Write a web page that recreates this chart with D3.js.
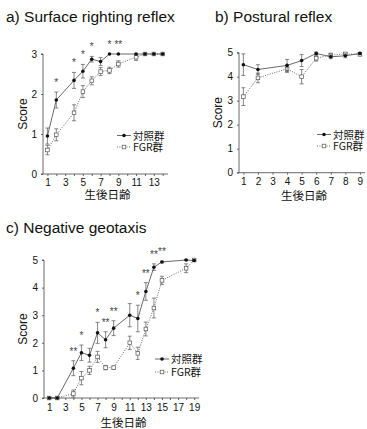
<!DOCTYPE html>
<html>
<head>
<meta charset="utf-8">
<script src="https://cdn.jsdelivr.net/npm/d3@7"></script>
<style>
  body { margin: 0; background: #fff; }
  svg text { font-family: "Liberation Sans", Arial, sans-serif; }
  .jp { font-family: "Noto Sans CJK JP", sans-serif; }
</style>
</head>
<body>
<svg id="chart" width="367" height="429"></svg>
<script>
// a) Surface righting reflex
const aDays = [1, 2, 4, 5, 6, 7, 8, 9, 11, 12, 13, 14];
const aCtrl = [0.95, 1.85, 2.34, 2.57, 2.87, 2.81, 3, 3, 3, 3, 3, 3];
const aCtrlErr = [0.2, 0.2, 0.2, 0.17, 0.07, 0.1, 0, 0, 0, 0, 0, 0];
const aFgr = [0.6, 0.98, 1.53, 2.06, 2.33, 2.56, 2.59, 2.75, 2.92, 3, 3, 3];
const aFgrErr = [0.12, 0.15, 0.2, 0.15, 0.1, 0.1, 0.08, 0.08, 0.08, 0, 0, 0];
const aStars = [[2, "*"], [4, "*"], [5, "*"], [6, "*"], [8, "*"], [9, "**"]];
const aXTicks = [1, 3, 5, 7, 9, 11, 13];
const aYTicks = [0, 1, 2, 3];

// b) Postural reflex
const bDays = [1, 2, 4, 5, 6, 7, 8, 9];
const bCtrl = [4.5, 4.3, 4.47, 4.67, 4.97, 4.83, 4.87, 4.97];
const bCtrlErr = [0.45, 0.2, 0.25, 0.25, 0.05, 0.08, 0.08, 0.04];
const bFgr = [3.17, 3.95, 4.33, 4.0, 4.77, 4.9, 4.95, 4.93];
const bFgrErr = [0.37, 0.2, 0.15, 0.3, 0.12, 0.08, 0.05, 0.05];
const bXTicks = [1, 2, 3, 4, 5, 6, 7, 8, 9];
const bYTicks = [0, 1, 2, 3, 4, 5];

// c) Negative geotaxis
const cDays = [1, 2, 4, 5, 6, 7, 8, 9, 11, 12, 13, 14, 15, 18, 19];
const cCtrl = [0, 0, 1.08, 1.64, 1.55, 2.36, 2.11, 2.53, 3.0, 2.88, 3.86, 4.74, 4.93, 5.0, 4.98];
const cCtrlErr = [0, 0, 0.27, 0.28, 0.25, 0.38, 0.29, 0.27, 0.42, 0.48, 0.32, 0.12, 0.03, 0.02, 0.02];
const cFgr = [0, 0, 0.16, 0.72, 1.0, 1.49, 1.1, 1.1, 2.0, 1.62, 2.5, 3.26, 4.26, 4.7, 5.0];
const cFgrErr = [0, 0, 0.13, 0.24, 0.15, 0.2, 0.08, 0.06, 0.24, 0.22, 0.25, 0.36, 0.15, 0.16, 0];
const cStars = [[4, "**"], [5, "*"], [7, "*"], [8, "**"], [9, "**"], [12, "*"], [13, "**"], [14, "**"], [15, "**"]];
const cXTicks = [1, 3, 5, 7, 9, 11, 13, 15, 17, 19];
const cYTicks = [0, 1, 2, 3, 4, 5];

const legendNames = ["対照群", "FGR群"];
const xTitle = "生後日齢";
const yTitle = "Score";

const svg = d3.select("#chart");

function drawPanel(p) {
  const x = d3.scaleLinear().domain(p.xDomain).range([p.left, p.right]);
  const y = d3.scaleLinear().domain(p.yDomain).range([p.bottom, p.top]);
  const g = svg.append("g");

  g.append("text").attr("x", p.titleX).attr("y", p.titleY)
    .style("font-size", "15.5px").style("fill", "#111").text(p.title);

  // axes
  const yAxis = d3.axisLeft(y).tickValues(p.yTicks).tickSize(2).tickPadding(4).tickFormat(d3.format("d"));
  const gy = g.append("g").attr("transform", `translate(${p.left},0)`).call(yAxis);
  gy.select(".domain").attr("d", `M-2,${p.bottom}H0V${p.top}H-2`);
  const xAxis = d3.axisBottom(x).tickValues(d3.range(1, p.days[p.days.length - 1] + 1)).tickSize(2)
    .tickPadding(p.xPad).tickFormat(d => p.xTicks.includes(d) ? d : "");
  const gx = g.append("g").attr("transform", `translate(0,${p.bottom})`).call(xAxis);
  gx.select(".domain").attr("d", `M${p.left},0H${p.right}`);
  g.selectAll(".tick text").style("font-size", "10px").style("fill", "#111");
  g.selectAll(".domain, .tick line").attr("stroke", "#444").attr("stroke-width", 0.8);

  g.append("text").attr("transform", `translate(${p.yLabelX},${(p.top + p.bottom) / 2}) rotate(-90)`)
    .attr("text-anchor", "middle").style("font-size", "12px").style("fill", "#111").text(yTitle);
  g.append("text").attr("class", "jp").attr("x", (p.left + p.right) / 2 + 2).attr("y", p.xLabelY)
    .attr("text-anchor", "middle").style("font-size", "11.5px").style("fill", "#111").text(xTitle);

  const series = [
    {vals: p.ctrl, err: p.ctrlErr, dash: null, open: false},
    {vals: p.fgr, err: p.fgrErr, dash: "1,1.4", open: true}
  ];
  // FGR first, control drawn on top
  series.slice().reverse().forEach(s => {
    const pts = p.days.map((d, i) => ({d: d, v: s.vals[i], e: s.err[i]}));
    g.append("path").datum(pts)
      .attr("d", d3.line().x(q => x(q.d)).y(q => y(q.v)))
      .attr("fill", "none").attr("stroke", "#444").attr("stroke-width", 0.8)
      .attr("stroke-dasharray", s.dash);
    const eb = g.append("g").attr("stroke", "#555").attr("stroke-width", 0.7);
    pts.filter(q => q.e > 0).forEach(q => {
      const cx = x(q.d);
      eb.append("line").attr("x1", cx).attr("x2", cx).attr("y1", y(q.v - q.e)).attr("y2", y(q.v + q.e));
      eb.append("line").attr("x1", cx - 2).attr("x2", cx + 2).attr("y1", y(q.v - q.e)).attr("y2", y(q.v - q.e));
      eb.append("line").attr("x1", cx - 2).attr("x2", cx + 2).attr("y1", y(q.v + q.e)).attr("y2", y(q.v + q.e));
    });
    if (s.open) {
      g.selectAll(null).data(pts).join("rect")
        .attr("x", q => x(q.d) - 1.8).attr("y", q => y(q.v) - 1.8).attr("width", 3.6).attr("height", 3.6)
        .attr("fill", "#fff").attr("stroke", "#555").attr("stroke-width", 0.7);
    } else {
      g.selectAll(null).data(pts).join("circle")
        .attr("cx", q => x(q.d)).attr("cy", q => y(q.v)).attr("r", 1.8).attr("fill", "#111");
    }
  });

  // significance marks
  p.stars.forEach(([d, s]) => {
    const i = p.days.indexOf(d);
    const topV = Math.max(p.ctrl[i] + p.ctrlErr[i], p.fgr[i] + p.fgrErr[i]);
    g.append("text").attr("x", x(d)).attr("y", y(topV) - p.starGap)
      .attr("text-anchor", "middle").style("font-size", "10px").style("fill", "#444").text(s);
  });

  // legend
  legendNames.forEach((name, i) => {
    const ly = p.legY + i * p.legStep;
    g.append("line").attr("x1", p.legX).attr("x2", p.legX + 14).attr("y1", ly).attr("y2", ly)
      .attr("stroke", "#444").attr("stroke-width", 0.8).attr("stroke-dasharray", i ? "1,1.4" : null);
    if (i) {
      g.append("rect").attr("x", p.legX + 5.2).attr("y", ly - 1.8).attr("width", 3.6).attr("height", 3.6)
        .attr("fill", "#fff").attr("stroke", "#555").attr("stroke-width", 0.7);
    } else {
      g.append("circle").attr("cx", p.legX + 7).attr("cy", ly).attr("r", 1.8).attr("fill", "#111");
    }
    g.append("text").attr("class", "jp").attr("x", p.legX + 16).attr("y", ly + 4)
      .style("font-size", "10.5px").style("fill", "#111").text(name);
  });
}

drawPanel({
  title: "a) Surface righting reflex", titleX: 6, titleY: 22,
  days: aDays, ctrl: aCtrl, ctrlErr: aCtrlErr, fgr: aFgr, fgrErr: aFgrErr, stars: aStars,
  xTicks: aXTicks, yTicks: aYTicks,
  xDomain: [0.5, 14.6], yDomain: [0, 3],
  left: 43, right: 168, top: 54, bottom: 174, xPad: 2.5,
  yLabelX: 27, xLabelY: 199, starGap: 6,
  legX: 117, legY: 135.5, legStep: 11.5
});

drawPanel({
  title: "b) Postural reflex", titleX: 215, titleY: 22,
  days: bDays, ctrl: bCtrl, ctrlErr: bCtrlErr, fgr: bFgr, fgrErr: bFgrErr, stars: [],
  xTicks: bXTicks, yTicks: bYTicks,
  xDomain: [0.7, 9.35], yDomain: [0, 5],
  left: 239, right: 365, top: 52.7, bottom: 172.7, xPad: 3,
  yLabelX: 222, xLabelY: 199.5, starGap: 5,
  legX: 317, legY: 134.5, legStep: 11.5
});

drawPanel({
  title: "c) Negative geotaxis", titleX: 6, titleY: 233,
  days: cDays, ctrl: cCtrl, ctrlErr: cCtrlErr, fgr: cFgr, fgrErr: cFgrErr, stars: cStars,
  xTicks: cXTicks, yTicks: cYTicks,
  xDomain: [0.35, 19.6], yDomain: [0, 5],
  left: 44, right: 199, top: 260, bottom: 398, xPad: 4,
  yLabelX: 27, xLabelY: 427, starGap: 6,
  legX: 155, legY: 359, legStep: 13
});
</script>
</body>
</html>
